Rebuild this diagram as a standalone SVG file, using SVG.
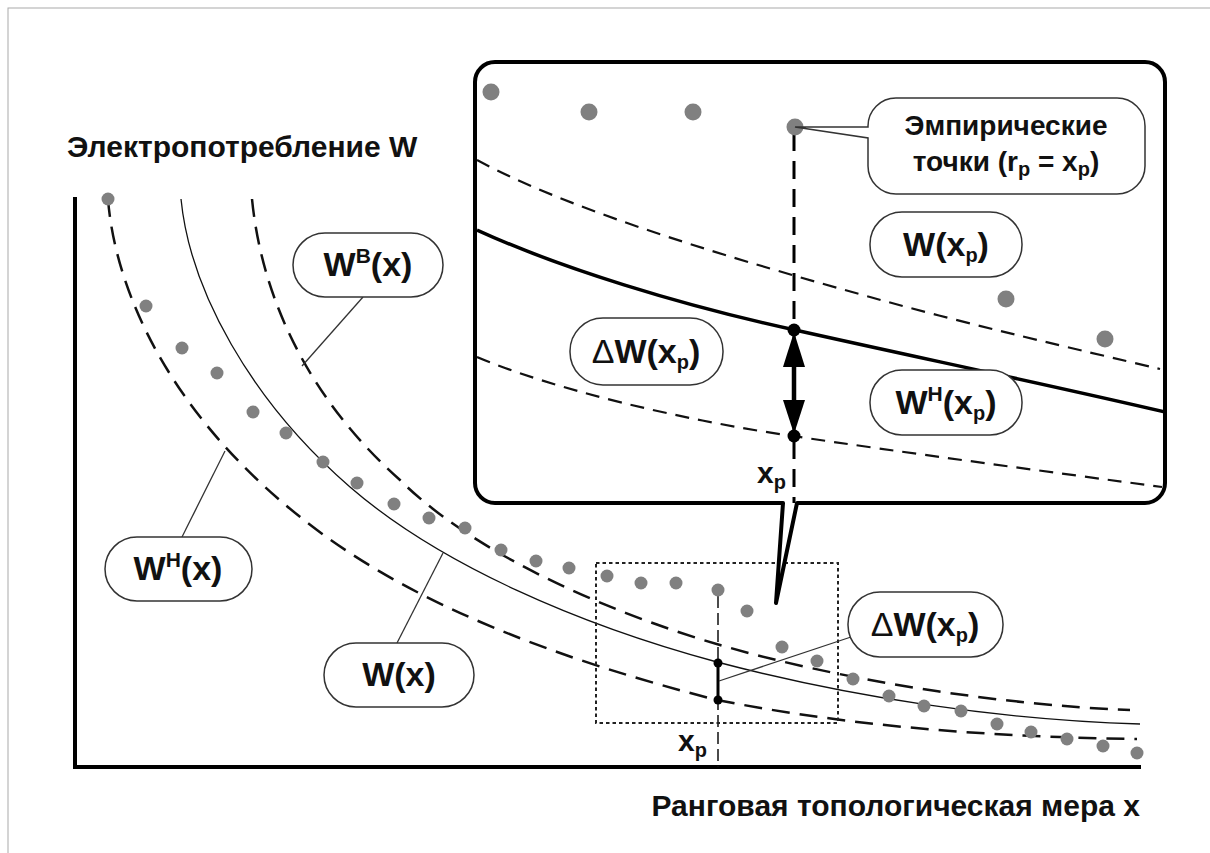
<svg xmlns="http://www.w3.org/2000/svg" width="1210" height="853" viewBox="0 0 1210 853">
<defs>
<style>
.t{font-family:"Liberation Sans",Arial,sans-serif;font-weight:bold;fill:#111}
.lbl{font-size:34px;text-anchor:middle}
.sub{font-size:20px}
.sup{font-size:21px}
.box{fill:#fff;stroke:#333;stroke-width:1.5}
.lead{stroke:#333;stroke-width:1.3;fill:none}
.dash{fill:none;stroke:#111;stroke-width:2.5;stroke-dasharray:18 10}
.idash{fill:none;stroke:#111;stroke-width:2.2;stroke-dasharray:14 9}
.dot{fill:#808080}
.bdot{fill:#000}
</style>
<clipPath id="inclip"><rect x="477" y="64" width="686" height="437" rx="18"/></clipPath>
</defs>
<rect width="1210" height="853" fill="#fff"/>
<rect x="8" y="8" width="1260" height="900" fill="none" stroke="#aaa" stroke-width="1"/>

<g id="axes">
<line x1="75" y1="197" x2="75" y2="769" stroke="#000" stroke-width="4"/>
<line x1="73" y1="767" x2="1141" y2="767" stroke="#000" stroke-width="4"/>
<text class="t" x="67" y="157" font-size="30">Электропотребление W</text>
<text class="t" x="1140" y="816" font-size="30" text-anchor="end">Ранговая топологическая мера x</text>
</g>

<g id="curves">
<path class="dash" d="M252,199 C262,300 310,400 400,480 C470,550 600,610 720,645 C840,680 1000,705 1130,710"/>
<path fill="none" stroke="#111" stroke-width="1.3" d="M181,199 C190,290 250,400 350,487 C440,565 580,625 717,662 C850,697 1000,720 1140,724"/>
<path class="dash" d="M108,199 C115,290 170,420 317,530 C420,607 560,660 717,700 C860,728 1000,737 1137,739"/>
</g>

<g id="points">
<circle class="dot" cx="108" cy="199" r="6.5"/>
<circle class="dot" cx="146" cy="306" r="6.5"/>
<circle class="dot" cx="182" cy="348" r="6.5"/>
<circle class="dot" cx="217" cy="373" r="6.5"/>
<circle class="dot" cx="253" cy="412" r="6.5"/>
<circle class="dot" cx="286" cy="433" r="6.5"/>
<circle class="dot" cx="323" cy="462" r="6.5"/>
<circle class="dot" cx="357" cy="483" r="6.5"/>
<circle class="dot" cx="394" cy="504" r="6.5"/>
<circle class="dot" cx="429" cy="518" r="6.5"/>
<circle class="dot" cx="465" cy="528" r="6.5"/>
<circle class="dot" cx="501" cy="550" r="6.5"/>
<circle class="dot" cx="536" cy="561" r="6.5"/>
<circle class="dot" cx="569" cy="568" r="6.5"/>
<circle class="dot" cx="607" cy="576" r="6.5"/>
<circle class="dot" cx="641" cy="583" r="6.5"/>
<circle class="dot" cx="676" cy="583" r="6.5"/>
<circle class="dot" cx="747" cy="611" r="6.5"/>
<circle class="dot" cx="782" cy="647" r="6.5"/>
<circle class="dot" cx="817" cy="661" r="6.5"/>
<circle class="dot" cx="853" cy="679" r="6.5"/>
<circle class="dot" cx="889" cy="696" r="6.5"/>
<circle class="dot" cx="924" cy="706" r="6.5"/>
<circle class="dot" cx="961" cy="711" r="6.5"/>
<circle class="dot" cx="997" cy="724" r="6.5"/>
<circle class="dot" cx="1031" cy="732" r="6.5"/>
<circle class="dot" cx="1067" cy="739" r="6.5"/>
<circle class="dot" cx="1103" cy="746" r="6.5"/>
<circle class="dot" cx="1137" cy="753" r="6.5"/>
</g>

<g id="xp-main">
<line x1="718" y1="596" x2="718" y2="767" stroke="#111" stroke-width="1.5" stroke-dasharray="12 5"/>
<circle class="dot" cx="718" cy="590" r="6.5"/>
<line x1="718" y1="663" x2="718" y2="700" stroke="#000" stroke-width="3"/>
<circle class="bdot" cx="718" cy="663" r="4.5"/>
<circle class="bdot" cx="718" cy="700" r="4.5"/>
<rect x="596" y="563" width="242" height="160" fill="none" stroke="#222" stroke-width="2" stroke-dasharray="3.5 3"/>
<text class="t" x="678" y="751" font-size="30">x<tspan class="sub" dy="6">p</tspan></text>
</g>

<g id="connectors">
<line class="lead" x1="363" y1="297" x2="302" y2="366"/>
<line class="lead" x1="182" y1="537" x2="225" y2="451"/>
<line class="lead" x1="397" y1="643" x2="443" y2="553"/>
<line class="lead" x1="851" y1="637" x2="719" y2="681"/>
<line class="lead" x1="724" y1="352" x2="792" y2="383"/>
<line class="lead" x1="870" y1="243" x2="797" y2="327"/>
<line class="lead" x1="870" y1="403" x2="796" y2="434"/>
</g>

<g id="label-WB">
<rect class="box" x="293" y="233" width="150" height="64" rx="32"/>
<text class="t lbl" x="368" y="276">W<tspan class="sup" dy="-13">B</tspan><tspan dy="13">(x)</tspan></text>
</g>
<g id="label-WH">
<rect class="box" x="105" y="537" width="147" height="64" rx="32"/>
<text class="t lbl" x="178" y="580">W<tspan class="sup" dy="-13">H</tspan><tspan dy="13">(x)</tspan></text>
</g>
<g id="label-W">
<rect class="box" x="324" y="643" width="150" height="64" rx="32"/>
<text class="t lbl" x="399" y="686">W(x)</text>
</g>
<g id="label-dW-main">
<rect class="box" x="848" y="592" width="155" height="65" rx="32"/>
<text class="t lbl" x="925" y="636"><tspan font-weight="normal">Δ</tspan>W(x<tspan class="sub" dy="6">p</tspan><tspan dy="-6">)</tspan></text>
</g>

<g id="inset">
<path d="M495,62 H1145 A20,20 0 0 1 1165,82 V483 A20,20 0 0 1 1145,503 H797 L776,603 L783,503 H495 A20,20 0 0 1 475,483 V82 A20,20 0 0 1 495,62 Z" fill="#fff" stroke="#000" stroke-width="4" stroke-linejoin="round"/>
<g clip-path="url(#inclip)">
<path class="idash" d="M477,160 C560,205 700,250 870,297 C970,325 1080,350 1160,369"/>
<path fill="none" stroke="#000" stroke-width="3.5" d="M477,230 C560,268 680,305 795,330 C920,358 1050,385 1165,412"/>
<path class="idash" d="M477,357 C550,388 680,420 793,436 C900,452 1050,472 1162,487"/>
</g>
<line x1="794" y1="133" x2="794" y2="503" stroke="#000" stroke-width="3" stroke-dasharray="18 10"/>
<circle class="dot" cx="491" cy="92" r="8.5"/>
<circle class="dot" cx="589" cy="112" r="8.5"/>
<circle class="dot" cx="693" cy="112" r="8.5"/>
<circle class="dot" cx="795" cy="127" r="8.5"/>
<circle class="dot" cx="1006" cy="299" r="8.5"/>
<circle class="dot" cx="1105" cy="339" r="8.5"/>
<line x1="794" y1="345" x2="794" y2="420" stroke="#000" stroke-width="4.5"/>
<polygon points="794,332 805,367 783,367" fill="#000"/>
<polygon points="794,434 805,400 783,400" fill="#000"/>
<circle class="bdot" cx="794" cy="330" r="6.5"/>
<circle class="bdot" cx="794" cy="436" r="6.5"/>
<rect x="755" y="460" width="32" height="36" fill="#fff"/>
<text class="t" x="757" y="483" font-size="30">x<tspan class="sub" dy="6">p</tspan></text>
</g>

<g id="label-emp">
<path class="box" d="M896,98 H1117 A28,28 0 0 1 1145,126 V166 A28,28 0 0 1 1117,194 H896 A28,28 0 0 1 868,166 V138 L795,127 L868,127 V126 A28,28 0 0 1 896,98 Z"/>
<text class="t" x="1006" y="135" font-size="28" text-anchor="middle">Эмпирические</text>
<text class="t" x="1006" y="171" font-size="28" text-anchor="middle">точки (r<tspan class="sub" font-size="17" dy="5">p</tspan><tspan dy="-5"> = x</tspan><tspan class="sub" font-size="17" dy="5">p</tspan><tspan dy="-5">)</tspan></text>
</g>
<g id="label-Wxp">
<rect class="box" x="870" y="212" width="152" height="65" rx="32"/>
<text class="t lbl" x="946" y="256">W(x<tspan class="sub" dy="6">p</tspan><tspan dy="-6">)</tspan></text>
</g>
<g id="label-WHxp">
<rect class="box" x="870" y="370" width="152" height="65" rx="32"/>
<text class="t lbl" x="946" y="414">W<tspan class="sup" dy="-13">H</tspan><tspan dy="13">(x</tspan><tspan class="sub" dy="6">p</tspan><tspan dy="-6">)</tspan></text>
</g>
<g id="label-dW-inset">
<rect class="box" x="570" y="318" width="153" height="67" rx="33"/>
<text class="t lbl" x="646" y="363"><tspan font-weight="normal">Δ</tspan>W(x<tspan class="sub" dy="6">p</tspan><tspan dy="-6">)</tspan></text>
</g>
</svg>
